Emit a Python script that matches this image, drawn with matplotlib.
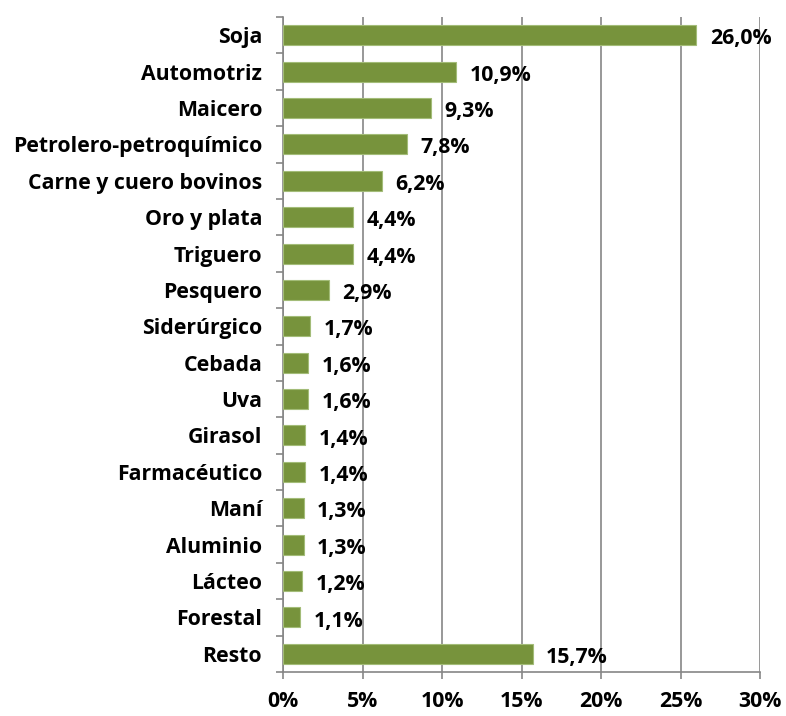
import matplotlib
matplotlib.use('Agg')
import matplotlib.pyplot as plt
import numpy as np
from matplotlib.ticker import FixedLocator, NullFormatter

categorias = ['Soja', 'Automotriz', 'Maicero', 'Petrolero-petroquímico',
              'Carne y cuero bovinos', 'Oro y plata', 'Triguero', 'Pesquero',
              'Siderúrgico', 'Cebada', 'Uva', 'Girasol', 'Farmacéutico',
              'Maní', 'Aluminio', 'Lácteo', 'Forestal', 'Resto']
valores = [26.0, 10.9, 9.3, 7.8, 6.2, 4.4, 4.4, 2.9, 1.7, 1.6, 1.6, 1.4,
           1.4, 1.3, 1.3, 1.2, 1.1, 15.7]
xticks = [0, 5, 10, 15, 20, 25, 30]

plt.rcParams['font.family'] = ['Open Sans', 'DejaVu Sans']
plt.rcParams['font.weight'] = 'bold'
fs = 15.3

fig = plt.figure(figsize=(7.86, 7.16), dpi=100)
ax = fig.add_axes([283 / 786, 1 - 672 / 716, (760 - 283) / 786, (672 - 17) / 716])

n = len(categorias)
y = np.arange(n)
ax.barh(y, valores, height=0.55, color='#77933C', edgecolor='#A3BC78',
        linewidth=0.8, zorder=3)
for yi, v in zip(y, valores):
    ax.text(v + 0.85, yi + 0.1, f'{v:.1f}%'.replace('.', ','), va='center',
            ha='left', fontsize=fs, fontweight='bold')

ax.set_ylim(n - 0.5, -0.5)
ax.set_xlim(0, 30)
ax.set_yticks(y)
ax.set_yticklabels(categorias, fontsize=fs, fontweight='bold')
ax.tick_params(axis='y', length=0, pad=15)
ax.yaxis.set_minor_locator(FixedLocator(np.arange(-0.5, n, 1)))
ax.yaxis.set_minor_formatter(NullFormatter())
ax.tick_params(axis='y', which='minor', length=5, color='#868686', width=1.2)

ax.set_xticks(xticks)
ax.set_xticklabels([f'{t}%' for t in xticks], fontsize=fs, fontweight='bold')
ax.tick_params(axis='x', length=5, color='#868686', width=1.2, pad=9)
ax.grid(axis='x', color='#868686', linewidth=1.2, zorder=0)

for s in ['top', 'right']:
    ax.spines[s].set_visible(False)
for s in ['left', 'bottom']:
    ax.spines[s].set_color('#868686')
    ax.spines[s].set_linewidth(1.2)

fig.savefig('out.png', dpi=100)
